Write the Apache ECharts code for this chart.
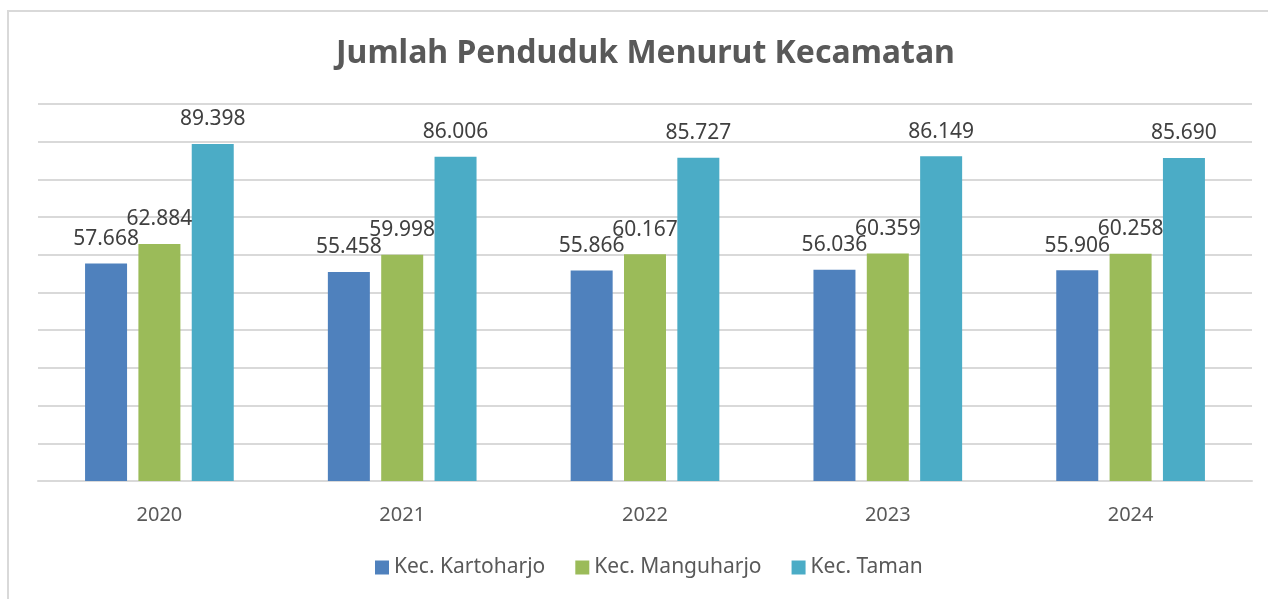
<!DOCTYPE html>
<html>
<head>
<meta charset="utf-8">
<script src="https://cdn.jsdelivr.net/npm/echarts@6/dist/echarts.min.js"></script>
<style>
  html, body { margin: 0; padding: 0; background: #fff; overflow: hidden; }
  #frame {
    position: absolute; left: 7px; top: 10px; width: 1400px; height: 700px;
    border: 2px solid #d9d9d9; box-sizing: border-box;
  }
  #chart { position: absolute; left: 0; top: 0; width: 1268px; height: 599px; }
</style>
</head>
<body>
<div id="frame"></div>
<div id="chart"></div>
<script>
// data
const years = ["2020", "2021", "2022", "2023", "2024"];
const kartoharjo = [57668, 55458, 55866, 56036, 55906];
const manguharjo = [62884, 59998, 60167, 60359, 60258];
const taman = [89398, 86006, 85727, 86149, 85690];

const seriesNames = ["Kec. Kartoharjo", "Kec. Manguharjo", "Kec. Taman"];
const colors = ["#4f81bd", "#9bbb59", "#4bacc6"];

// format angka pakai titik sebagai pemisah ribuan
function fmt(v) {
  return String(v).replace(/\B(?=(\d{3})+(?!\d))/g, ".");
}

let myChart = echarts.init(document.getElementById("chart"));

function makeSeries(name, data, color) {
  return {
    name: name,
    type: "bar",
    data: data,
    barWidth: 42,
    barGap: "27%",
    itemStyle: { color: color },
    label: {
      show: true,
      position: "top",
      distance: 14,
      color: "#404040",
      fontSize: 21,
      fontFamily: "Noto Sans",
      formatter: function (p) {
        return fmt(p.value);
      },
    },
  };
}

myChart.setOption({
  animation: false,
  textStyle: { fontFamily: "Noto Sans" },
  title: {
    text: "Jumlah Penduduk Menurut Kecamatan",
    left: 331,
    top: 33,
    textStyle: {
      fontSize: 32,
      fontWeight: "bold",
      color: "#595959",
      fontFamily: "Noto Sans",
    },
  },
  legend: {
    bottom: 16,
    left: 370,
    itemWidth: 14,
    itemHeight: 14,
    itemGap: 30,
    icon: "rect",
    textStyle: { fontSize: 21, color: "#595959", fontFamily: "Noto Sans" },
    data: seriesNames,
  },
  grid: {
    left: 38,
    right: 16,
    top: 104,
    bottom: 118,
    containLabel: false,
  },
  xAxis: {
    type: "category",
    data: years,
    axisTick: { show: false },
    axisLine: { show: true, lineStyle: { color: "#d9d9d9", width: 2 } },
    axisLabel: {
      fontSize: 20,
      color: "#595959",
      margin: 24,
      fontFamily: "Noto Sans",
    },
  },
  yAxis: {
    type: "value",
    min: 0,
    max: 100000,
    interval: 10000,
    axisLabel: { show: false },
    axisLine: { show: false },
    axisTick: { show: false },
    splitLine: { lineStyle: { color: "#d9d9d9", width: 2 } },
  },
  series: [
    makeSeries(seriesNames[0], kartoharjo, colors[0]),
    makeSeries(seriesNames[1], manguharjo, colors[1]),
    makeSeries(seriesNames[2], taman, colors[2]),
  ],
});

window.onresize = function () {
  myChart.resize();
};
</script>
</body>
</html>
